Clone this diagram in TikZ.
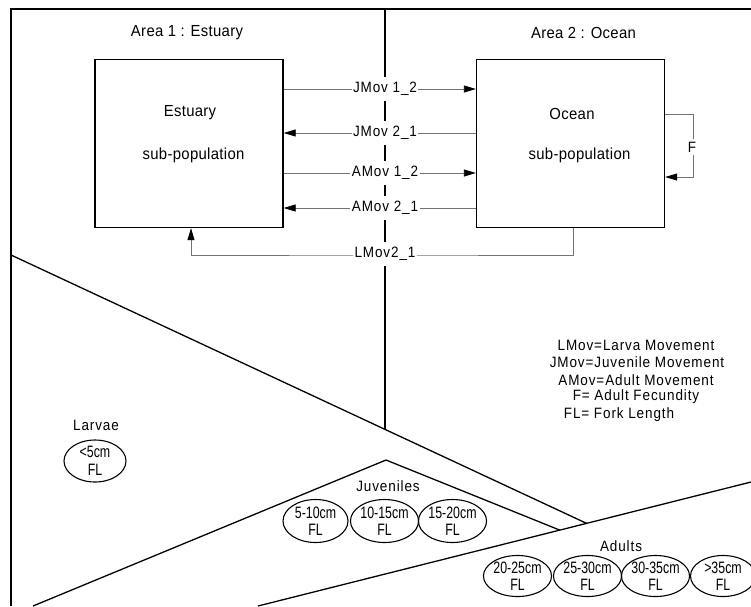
\documentclass[tikz,border=0pt]{standalone}
\usepackage{fontspec}
\setmainfont{Liberation Sans}
\newfontfamily\narrowfont[FakeStretch=0.75]{Liberation Sans}
\newfontfamily\mainf[FakeStretch=0.93,LetterSpace=2]{Liberation Sans}
\newfontfamily\labf[FakeStretch=0.9,LetterSpace=6]{Liberation Sans}
\usetikzlibrary{arrows.meta,shapes.geometric,calc}
\begin{document}
\begin{tikzpicture}[x=1pt,y=-1pt,
  frame/.style={line width=1.5pt},
  diag/.style={line width=1.3pt},
  divider/.style={line width=2.5pt},
  box/.style={draw, line width=1.3pt, minimum width=188pt, minimum height=168pt, inner sep=0pt},
  txt/.style={font=\mainf\fontsize{16}{19}\selectfont, inner sep=1pt},
  clab/.style={fill=white, inner xsep=1.5pt, inner ysep=5pt, font=\labf\fontsize{15}{17}\selectfont},
  leg/.style={font=\labf\fontsize{15}{17}\selectfont, inner sep=0pt},
  conn/.style={draw=black!55, line width=0.8pt},
  tip/.style={-{Triangle[length=12pt,width=7pt,color=black]}},
  fl/.style={draw, ellipse, line width=1.1pt, inner sep=0pt, align=center,
    font=\narrowfont\fontsize{16.5}{17.5}\selectfont},
  jfl/.style={fl, minimum width=65pt, minimum height=43pt},
  afl/.style={fl, minimum width=65pt, minimum height=39pt}]
\useasboundingbox (0,0) rectangle (751,606);
% frame
\coordinate (fr1) at (751,9);
\coordinate (fr2) at (11,9);
\coordinate (fr3) at (11,606);
\draw[frame] (fr1) -- (fr2) -- (fr3);
% diagonal lines
\coordinate (l1a) at (11,255);
\coordinate (l1d) at (588,524);
\coordinate (l2a) at (258,606);
\coordinate (l2b) at (751,482);
\coordinate (l1b) at (intersection of l1a--l1d and l2a--l2b);
\coordinate (ja) at (33,606);
\coordinate (jt) at (386,460);
\coordinate (jd) at (562,531);
\coordinate (jb) at (intersection of jt--jd and l2a--l2b);
\draw[diag] (l1a) -- (l1b);
\draw[diag] (l2a) -- (l2b);
\draw[diag] (ja) -- (jt) -- (jb);
% divider
\coordinate (dvt) at (385,9);
\coordinate (dvx) at (385,600);
\coordinate (dvb) at (intersection of l1a--l1b and dvt--dvx);
\draw[divider] (dvt) -- (dvb);
% titles
\node[txt] (a1) at (187,33) {Area 1 : Estuary};
\node[txt] (a2) at (583.5,33) {Area 2 : Ocean};
% boxes
\node[box] (est) at (189,143.5) {};
\node[box] (oc) at (570.5,143.5) {};
\node[txt] (est1) at (190,113) {Estuary};
\node[txt] (est2) at (193.5,155) {sub-population};
\node[txt] (oc1) at (572,114) {Ocean};
\node[txt] (oc2) at (579.5,155) {sub-population};
% connectors
\coordinate (y1) at (385,89);
\coordinate (y2) at (385,133);
\coordinate (y3) at (385,173);
\coordinate (y4) at (385,208);
\coordinate (y5) at (385,255);
\draw[conn,tip] (est.east |- y1) -- (oc.west |- y1);
\draw[conn,tip] (oc.west |- y2) -- (est.east |- y2);
\draw[conn,tip] (est.east |- y3) -- (oc.west |- y3);
\draw[conn,tip] (oc.west |- y4) -- (est.east |- y4);
\draw[conn,tip] ([xshift=2.5pt]oc.south) |- (y5) -| ([xshift=2pt]est.south);
\draw[conn,tip] ([yshift=29.5pt]oc.east) -- ++(28,0) |- ([yshift=-33.5pt]oc.east);
\node[clab] (j12) at (y1) {JMov 1\_2};
\node[clab] (j21) at (y2) {JMov 2\_1};
\node[clab] (a12) at (y3) {AMov 1\_2};
\node[clab] (a21) at (y4) {AMov 2\_1};
\node[clab] (l21) at ([yshift=1pt]y5) {LMov2\_1};
\node[clab, inner ysep=3pt] (ff) at (692,147) {F};
% legend
\node[leg] (lg1) at (636,345) {LMov=Larva Movement};
\node[leg] (lg2) at (637,362) {JMov=Juvenile Movement};
\node[leg] (lg3) at (636,380) {AMov=Adult Movement};
\node[leg] (lg4) at (636,397) {F= Adult Fecundity};
\node[leg] (lg5) at (619,415) {FL= Fork Length};
% stage labels
\node[leg] (lar) at (96,425) {Larvae};
\node[leg] (juv) at (388,486) {Juveniles};
\node[leg] (adu) at (621,546) {Adults};
% ellipses
\node[fl, minimum width=62pt, minimum height=42pt] (e0) at (95,461) {<5cm\\FL};
\node[jfl] (e1) at (315.5,521) {5-10cm\\FL};
\node[jfl] (e2) at (384.5,521) {10-15cm\\FL};
\node[jfl] (e3) at (452.5,521) {15-20cm\\FL};
\node[afl] (e4) at (517.5,576) {20-25cm\\FL};
\node[afl] (e5) at (587.5,576) {25-30cm\\FL};
\node[afl] (e6) at (655.5,576) {30-35cm\\FL};
\node[afl] (e7) at (723,576) {>35cm\\FL};
\end{tikzpicture}
\end{document}
